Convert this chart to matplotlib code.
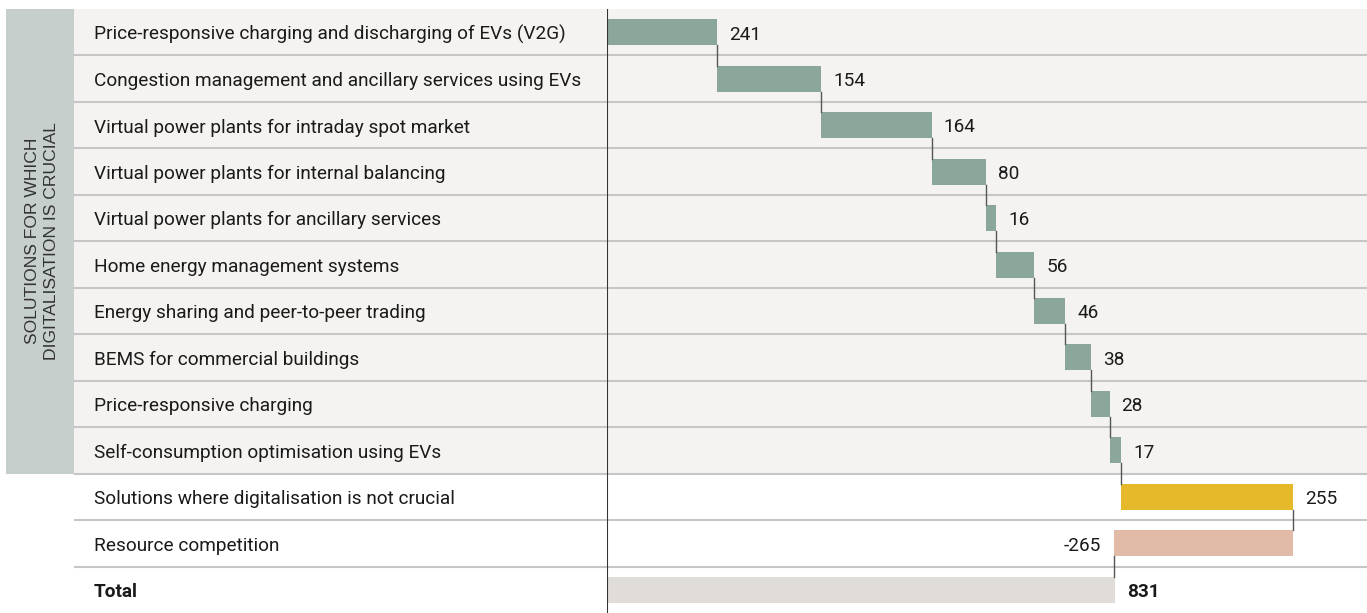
import matplotlib
matplotlib.use("Agg")
import matplotlib.pyplot as plt
from matplotlib.patches import Rectangle

# data
labels = [
    "Price-responsive charging and discharging of EVs (V2G)",
    "Congestion management and ancillary services using EVs",
    "Virtual power plants for intraday spot market",
    "Virtual power plants for internal balancing",
    "Virtual power plants for ancillary services",
    "Home energy management systems",
    "Energy sharing and peer-to-peer trading",
    "BEMS for commercial buildings",
    "Price-responsive charging",
    "Self-consumption optimisation using EVs",
    "Solutions where digitalisation is not crucial",
    "Resource competition",
    "Total",
]
values = [241, 154, 164, 80, 16, 56, 46, 38, 28, 17, 255, -265, 831]
group_label = "SOLUTIONS FOR WHICH\nDIGITALISATION IS CRUCIAL"
n_crucial = 10

C_STEP = "#8ba69b"
C_POS = "#e6b92a"
C_NEG = "#e2bba8"
C_TOTAL = "#e0ddd8"
C_BG = "#f4f3f1"
C_BOX = "#c6cfcb"
C_SEP = "#c6c6c6"
C_TXT = "#1a1a1a"
FONT = "Roboto"
FS = 13.7

W, H = 1367, 613
fig = plt.figure(figsize=(W / 100, H / 100), dpi=100)
top = (H - 9) / H
ax_lab = fig.add_axes([6 / W, 0, (607 - 6) / W, top])
ax = fig.add_axes([607 / W, 0, (W - 607) / W, top], sharey=ax_lab)

n = len(labels)
ax_lab.set_ylim(n - 0.5, -0.5)
ax_lab.set_xlim(6, 607)

# left panel: group box + label backgrounds
ax_lab.add_patch(Rectangle((6, -0.5), 68, n_crucial, color=C_BOX, lw=0))
ax_lab.add_patch(Rectangle((74, -0.5), 533, n_crucial, color=C_BG, lw=0))
ax_lab.text(42, (n_crucial - 1) / 2, group_label, rotation=90, ha="center", va="center",
            fontsize=12.6, family="Liberation Sans", color="#333333", linespacing=1.3)
for i, lab in enumerate(labels):
    ax_lab.text(94, i + 0.05, lab, ha="left", va="center", fontsize=FS, family=FONT,
                color=C_TXT, fontweight="bold" if lab == "Total" else "normal")
for i in range(n - 1):
    ax_lab.plot([74, 607], [i + 0.5, i + 0.5], color=C_SEP, lw=1.5, solid_capstyle="butt")
ax_lab.axis("off")

# waterfall
ax.axhspan(-0.5, n_crucial - 0.5, color=C_BG, lw=0, zorder=0)
for i in range(n - 1):
    ax.axhline(i + 0.5, color=C_SEP, lw=1.5, zorder=1)

bh = 0.56
cum = 0
ends = []
for i, v in enumerate(values):
    if i == n - 1:
        start, color = 0, C_TOTAL
    else:
        start = cum
        color = C_STEP if i < n_crucial else (C_POS if v > 0 else C_NEG)
    ax.barh(i, v, left=start, height=bh, color=color, zorder=2)
    end = start + v
    ends.append(end)
    cum = end
    if v >= 0:
        ax.annotate(str(v), (end, i + 0.05), xytext=(12, 0), textcoords="offset pixels",
                    ha="left", va="center", fontsize=FS, family=FONT, color=C_TXT,
                    fontweight="bold" if i == n - 1 else "normal")
    else:
        ax.annotate(str(v), (end, i + 0.05), xytext=(-13, 0), textcoords="offset pixels",
                    ha="right", va="center", fontsize=FS, family=FONT, color=C_TXT)

# connectors
for i in range(n - 1):
    ax.plot([ends[i], ends[i]], [i + bh / 2, i + 1 - bh / 2], color="#555555", lw=1, zorder=3)

ax.set_xlim(77, 1205)
ax.axvline(77, color="#333333", lw=1.5, zorder=4)
ax.axis("off")

fig.savefig("out.png", dpi=100, facecolor="white")
